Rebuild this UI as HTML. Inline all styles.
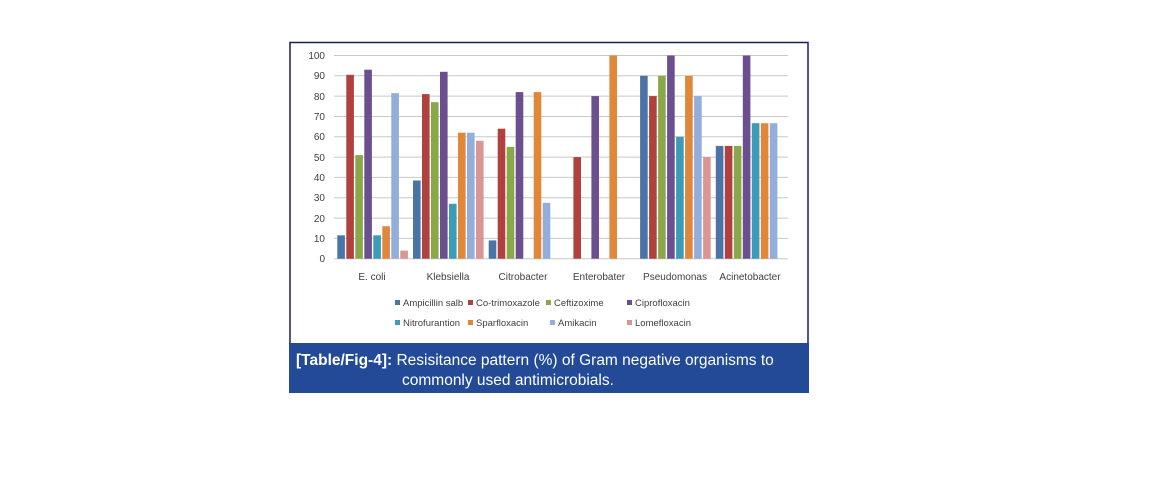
<!DOCTYPE html>
<html><head><meta charset="utf-8"><style>
html,body{margin:0;padding:0;background:#fff;width:1169px;height:490px;overflow:hidden}
svg{position:absolute;left:0;top:0}
</style></head><body>
<svg width="1169" height="490" xmlns="http://www.w3.org/2000/svg" font-family="Liberation Sans, sans-serif">
<rect x="290" y="42.5" width="518" height="302" fill="#fff" stroke="#1a1f5a" stroke-width="1.5"/>
<g stroke="#c8c8c8" stroke-width="1">
<line x1="334" x2="788" y1="55.5" y2="55.5"/><line x1="334" x2="788" y1="75.8" y2="75.8"/>
<line x1="334" x2="788" y1="96.1" y2="96.1"/><line x1="334" x2="788" y1="116.5" y2="116.5"/>
<line x1="334" x2="788" y1="136.8" y2="136.8"/><line x1="334" x2="788" y1="157.1" y2="157.1"/>
<line x1="334" x2="788" y1="177.4" y2="177.4"/><line x1="334" x2="788" y1="197.7" y2="197.7"/>
<line x1="334" x2="788" y1="218.1" y2="218.1"/><line x1="334" x2="788" y1="238.4" y2="238.4"/>
<line x1="334" x2="788" y1="258.7" y2="258.7"/>
</g>
<g font-size="10" fill="#404040" text-anchor="end">
<text x="325" y="59">100</text><text x="325" y="79">90</text><text x="325" y="100">80</text>
<text x="325" y="120">70</text><text x="325" y="140">60</text><text x="325" y="161">50</text>
<text x="325" y="181">40</text><text x="325" y="201">30</text><text x="325" y="222">20</text>
<text x="325" y="242">10</text><text x="325" y="262">0</text>
</g>
<g>
<!-- E. coli -->
<rect x="337.3" y="235.3" width="7.6" height="23.4" fill="#4a74a8"/>
<rect x="346.3" y="74.8" width="7.6" height="183.9" fill="#b0413e"/>
<rect x="355.3" y="155.1" width="7.6" height="103.6" fill="#8aa84a"/>
<rect x="364.3" y="69.7" width="7.6" height="189.0" fill="#6b4f8f"/>
<rect x="373.3" y="235.3" width="7.6" height="23.4" fill="#3e9bb5"/>
<rect x="382.3" y="226.2" width="7.6" height="32.5" fill="#e0873a"/>
<rect x="391.3" y="93.1" width="7.6" height="165.6" fill="#94aedb"/>
<rect x="400.3" y="250.6" width="7.6" height="8.1" fill="#d99694"/>
<!-- Klebsiella -->
<rect x="413" y="180.5" width="7.6" height="78.2" fill="#4a74a8"/>
<rect x="422" y="94.1" width="7.6" height="164.6" fill="#b0413e"/>
<rect x="431" y="102.2" width="7.6" height="156.5" fill="#8aa84a"/>
<rect x="440" y="71.8" width="7.6" height="186.9" fill="#6b4f8f"/>
<rect x="449" y="203.8" width="7.6" height="54.9" fill="#3e9bb5"/>
<rect x="458" y="132.7" width="7.6" height="126.0" fill="#e0873a"/>
<rect x="467" y="132.7" width="7.6" height="126.0" fill="#94aedb"/>
<rect x="476" y="140.8" width="7.6" height="117.9" fill="#d99694"/>
<!-- Citrobacter -->
<rect x="488.7" y="240.4" width="7.6" height="18.3" fill="#4a74a8"/>
<rect x="497.7" y="128.7" width="7.6" height="130.0" fill="#b0413e"/>
<rect x="506.7" y="146.9" width="7.6" height="111.8" fill="#8aa84a"/>
<rect x="515.7" y="92.1" width="7.6" height="166.6" fill="#6b4f8f"/>
<rect x="533.7" y="92.1" width="7.6" height="166.6" fill="#e0873a"/>
<rect x="542.7" y="202.8" width="7.6" height="55.9" fill="#94aedb"/>
<!-- Enterobater -->
<rect x="573.4" y="157.1" width="7.6" height="101.6" fill="#b0413e"/>
<rect x="591.4" y="96.1" width="7.6" height="162.6" fill="#6b4f8f"/>
<rect x="609.4" y="55.5" width="7.6" height="203.2" fill="#e0873a"/>
<!-- Pseudomonas -->
<rect x="640.1" y="75.8" width="7.6" height="182.9" fill="#4a74a8"/>
<rect x="649.1" y="96.1" width="7.6" height="162.6" fill="#b0413e"/>
<rect x="658.1" y="75.8" width="7.6" height="182.9" fill="#8aa84a"/>
<rect x="667.1" y="55.5" width="7.6" height="203.2" fill="#6b4f8f"/>
<rect x="676.1" y="136.8" width="7.6" height="121.9" fill="#3e9bb5"/>
<rect x="685.1" y="75.8" width="7.6" height="182.9" fill="#e0873a"/>
<rect x="694.1" y="96.1" width="7.6" height="162.6" fill="#94aedb"/>
<rect x="703.1" y="157.1" width="7.6" height="101.6" fill="#d99694"/>
<!-- Acinetobacter -->
<rect x="715.8" y="145.9" width="7.6" height="112.8" fill="#4a74a8"/>
<rect x="724.8" y="145.9" width="7.6" height="112.8" fill="#b0413e"/>
<rect x="733.8" y="145.9" width="7.6" height="112.8" fill="#8aa84a"/>
<rect x="742.8" y="55.5" width="7.6" height="203.2" fill="#6b4f8f"/>
<rect x="751.8" y="123.2" width="7.6" height="135.5" fill="#3e9bb5"/>
<rect x="760.8" y="123.2" width="7.6" height="135.5" fill="#e0873a"/>
<rect x="769.8" y="123.2" width="7.6" height="135.5" fill="#94aedb"/>
</g>
<g font-size="10" fill="#404040" text-anchor="middle">
<text x="372" y="280">E. coli</text><text x="448" y="280">Klebsiella</text>
<text x="523" y="280">Citrobacter</text><text x="599" y="280">Enterobater</text>
<text x="675" y="280">Pseudomonas</text><text x="750" y="280">Acinetobacter</text>
</g>
<g font-size="9.5" fill="#404040">
<rect x="395" y="300" width="5" height="5" fill="#4a74a8"/><text x="403" y="306">Ampicillin salb</text>
<rect x="468" y="300" width="5" height="5" fill="#b0413e"/><text x="476" y="306">Co-trimoxazole</text>
<rect x="546" y="300" width="5" height="5" fill="#8aa84a"/><text x="554" y="306">Ceftizoxime</text>
<rect x="627" y="300" width="5" height="5" fill="#6b4f8f"/><text x="635" y="306">Ciprofloxacin</text>
<rect x="395" y="320" width="5" height="5" fill="#3e9bb5"/><text x="403" y="326">Nitrofurantion</text>
<rect x="468" y="320" width="5" height="5" fill="#e0873a"/><text x="476" y="326">Sparfloxacin</text>
<rect x="550" y="320" width="5" height="5" fill="#94aedb"/><text x="558" y="326">Amikacin</text>
<rect x="627" y="320" width="5" height="5" fill="#d99694"/><text x="635" y="326">Lomefloxacin</text>
</g>
<rect x="289" y="343" width="520" height="50" fill="#234a96"/>
<text x="296" y="365" font-size="15.5" fill="#fff"><tspan font-weight="bold">[Table/Fig-4]:</tspan> Resisitance pattern (%) of Gram negative organisms to</text>
<text x="402" y="385" font-size="15.5" fill="#fff">commonly used antimicrobials.</text>
</svg>
</body></html>
